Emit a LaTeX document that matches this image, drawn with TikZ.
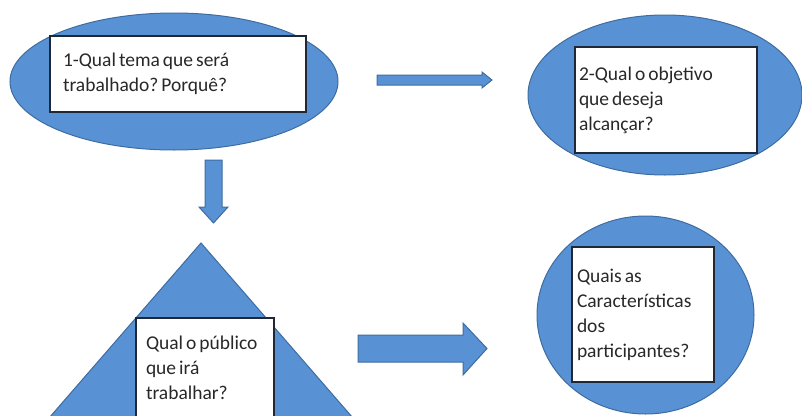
\documentclass[tikz,border=0pt]{standalone}
\usepackage{fontspec}
\setmainfont{Carlito}
\frenchspacing
\usetikzlibrary{shapes.geometric}

\definecolor{shapeblue}{RGB}{88,146,212}
\definecolor{shapeedge}{RGB}{62,108,160}
\definecolor{boxedge}{RGB}{30,40,55}
\definecolor{txtgray}{RGB}{40,40,40}

\newcommand{\qspace}{\spaceskip=3pt plus 1pt\relax\xspaceskip=3pt plus 1pt\relax}

\tikzset{
  blueshape/.style={fill=shapeblue, draw=shapeedge, line width=1pt},
  qbox/.style={draw=boxedge, fill=white, line width=1.3pt, align=flush left,
    font=\fontsize{19.5}{25}\selectfont, execute at begin node=\qspace,
    text=txtgray, inner ysep=0pt},
}

\begin{document}
\begin{tikzpicture}[x=1pt,y=-1pt]

    \useasboundingbox (0,0) rectangle (802,415);
    \clip (0,0) rectangle (802,415);

    % draw ellipses and circle
    \node[blueshape, ellipse, minimum width=328pt, minimum height=137pt] (tema) at (174,81.5) {};
    \node[blueshape, ellipse, minimum width=274pt, minimum height=160pt] (objetivo) at (665,95) {};
    \node[blueshape, ellipse, minimum width=217pt, minimum height=198pt] (carac) at (645.5,315) {};

    % draw triangle
    \coordinate (apex) at (201,243);
    \draw[blueshape] (apex) -- (36,433) -- (366,433) -- cycle;

    % block arrows
    \draw[blueshape] (377,75) -- (482,75) -- (482,72) -- (492,80) -- (482,88) -- (482,85) -- (377,85) -- cycle;
    \draw[blueshape] (205,160) -- (222,160) -- (222,207) -- (228,207) -- (213.5,223) -- (199,207) -- (205,207) -- cycle;
    \draw[blueshape] (358,335) -- (463,335) -- (463,323) -- (487,348.5) -- (463,375) -- (463,362) -- (358,362) -- cycle;

    % question boxes
    \node[qbox, text width=230pt, inner xsep=13pt, minimum height=76pt] (q1) at (178,74)
      {1-Qual tema que será\\trabalhado? Porquê?};
    \node[qbox, text width=174pt, inner xsep=4pt, minimum height=106pt] (q2) at (666,100)
      {2-Qual o objetivo\\que deseja\\alcançar?};
    \node[qbox, text width=118pt, inner xsep=10pt, minimum height=100pt] (q3) at (205,368)
      {Qual o público\\que irá\\trabalhar?};
    \node[qbox, text width=132pt, inner xsep=5pt, minimum height=135pt] (q4) at (643,314.5)
      {Quais as\\Características\\dos\\participantes?};

\end{tikzpicture}
\end{document}
